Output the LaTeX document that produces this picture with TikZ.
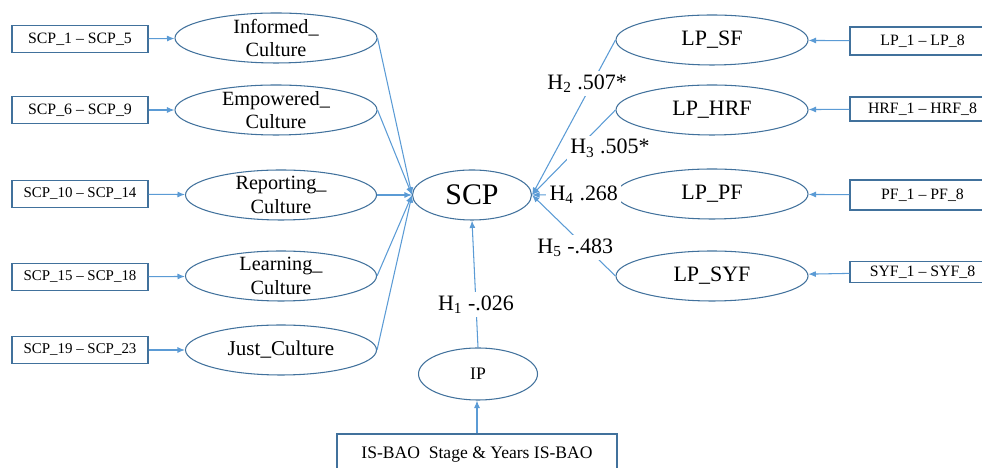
\documentclass[tikz,border=0pt]{standalone}
\usepackage{fontspec}
\setmainfont{Liberation Serif}
\usetikzlibrary{positioning, arrows.meta, shapes.geometric}
\definecolor{linea}{HTML}{5B9BD5}
\definecolor{bordo}{HTML}{41719C}
\tikzset{
	>={Latex[length=1.5mm, width=1.2mm]},
	% box of indicators
	indic/.style={draw=bordo, line width=0.6pt, rectangle, minimum width=2.72cm, minimum height=0.54cm,
	              inner sep=1pt, font=\fontsize{9}{11}\selectfont},
	% latent construct (ellipse)
	lat/.style={draw=bordo, line width=0.6pt, ellipse, minimum width=3.84cm, minimum height=1cm,
	            inner sep=0pt, font=\fontsize{12.5}{14}\selectfont},
	% two-line name inside a construct
	doppia/.style={align=center, inner sep=0pt, font=\fontsize{11.5}{13.5}\selectfont},
	% path between constructs
	freccia/.style={->, linea, line width=0.6pt},
	% coefficient written on a path
	coef/.style={fill=white, text=black, inner sep=2pt, font=\fontsize{12.5}{14}\selectfont},
}

\begin{document}
\begin{tikzpicture}
    \useasboundingbox (0,0) rectangle (19.64,9.36);

    % central construct and control
    \node[lat, minimum width=2.38cm, font=\fontsize{17}{20}\selectfont] (scp) at (9.44,5.46) {SCP};
    \node[lat, minimum width=2.38cm, minimum height=1.04cm, font=\fontsize{10}{12}\selectfont] (ip) at (9.56,1.88) {IP};
    \node[indic, minimum width=5.6cm, minimum height=0.84cm, font=\fontsize{10}{12}\selectfont] (isbao) at (9.54,0.26) {IS-BAO\ \ Stage \& Years IS-BAO};

    % safety culture dimensions
    \node[lat, minimum width=4.04cm, label={[doppia]center:{Informed\_\\Culture}}] (inf) at (5.52,8.6) {};
    \node[lat, minimum width=4.04cm, label={[doppia]center:{Empowered\_\\Culture}}] (emp) at (5.52,7.16) {};
    \node[lat, minimum width=3.82cm, label={[doppia]center:{Reporting\_\\Culture}}] (rep) at (5.62,5.46) {};
    \node[lat, minimum width=3.82cm, label={[doppia]center:{Learning\_\\Culture}}] (lea) at (5.62,3.84) {};
    \node[lat, minimum width=3.82cm, font=\fontsize{12}{14}\selectfont] (jus) at (5.62,2.36) {Just\_Culture};

    \node[indic] (b1) at (1.6,8.58) {SCP\_1 -- SCP\_5};
    \node[indic] (b2) at (1.6,7.16) {SCP\_6 -- SCP\_9};
    \node[indic, font=\fontsize{8.5}{10}\selectfont] (b3) at (1.6,5.48) {SCP\_10 -- SCP\_14};
    \node[indic, font=\fontsize{8.5}{10}\selectfont] (b4) at (1.6,3.82) {SCP\_15 -- SCP\_18};
    \node[indic, font=\fontsize{8.5}{10}\selectfont] (b5) at (1.6,2.36) {SCP\_19 -- SCP\_23};

    % performance constructs
    \node[lat] (sf) at (14.24,8.56) {LP\_SF};
    \node[lat] (hrf) at (14.24,7.16) {LP\_HRF};
    \node[lat] (pf) at (14.24,5.48) {LP\_PF};
    \node[lat] (syf) at (14.24,3.84) {LP\_SYF};

    \node[indic, minimum width=2.9cm, minimum height=0.56cm] (lp) at (18.45,8.54) {LP\_1 -- LP\_8};
    \node[indic, minimum width=2.9cm, minimum height=0.48cm] (hr) at (18.45,7.18) {HRF\_1 -- HRF\_8};
    \node[indic, minimum width=2.9cm, minimum height=0.6cm] (pfi) at (18.45,5.46) {PF\_1 -- PF\_8};
    \node[indic, minimum width=2.9cm, minimum height=0.42cm] (sy) at (18.45,3.92) {SYF\_1 -- SYF\_8};

    % indicators -> constructs
    \draw[freccia] (b1) -- (inf);
    \draw[freccia] (b2) -- (emp);
    \draw[freccia] (b3) -- (rep);
    \draw[freccia] (b4) -- (lea);
    \draw[freccia] (b5) -- (jus);
    \draw[freccia] (lp) -- (sf);
    \draw[freccia] (hr) -- (hrf);
    \draw[freccia] (pfi) -- (pf);
    \draw[freccia] (sy) -- (syf);
    \draw[freccia] (isbao) -- (isbao |- ip.south);

    % dimensions -> SCP
    \draw[freccia] (inf.east) -- (scp.west);
    \draw[freccia] (emp.east) -- (scp.west);
    \draw[freccia] (rep.east) -- (scp.west);
    \draw[freccia] (lea.east) -- (scp.west);
    \draw[freccia] (jus.east) -- (scp.west);

    % hypotheses
    \draw[freccia] (ip.north) -- node[coef, pos=0.34]{H\textsubscript{1} -.026} (scp.south);
    \draw[freccia] (sf.west) -- node[coef, pos=0.28, xshift=-0.1cm]{H\textsubscript{2} .507*} (scp.east);
    \draw[freccia] (hrf.west) -- node[coef, pos=0.45, xshift=0.64cm]{H\textsubscript{3} .505*} (scp.east);
    \draw[freccia] (pf.west) -- node[coef, pos=0.38]{H\textsubscript{4} .268} (scp.east);
    \draw[freccia] (syf.west) -- node[coef, pos=0.35, xshift=-0.22cm]{H\textsubscript{5} -.483} (scp.east);
  \end{tikzpicture}
\end{document}
